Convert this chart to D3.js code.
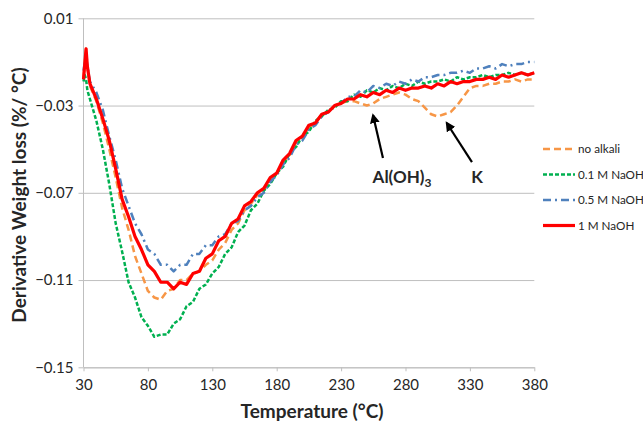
<!DOCTYPE html>
<html>
<head>
<meta charset="utf-8">
<script src="https://cdn.jsdelivr.net/npm/d3@7"></script>
<style>
  body { margin: 0; background: #fff; }
  svg { display: block; font-family: Lato, 'Open Sans', sans-serif; }
  .grid-line { stroke: #bfbfbf; stroke-width: 1; }
  .axis path, .axis line { stroke: #bfbfbf; }
  .axis text { fill: #262626; font-size: 15px; font-family: Lato, sans-serif; }
  .series { fill: none; stroke-linejoin: round; }
</style>
</head>
<body>
<svg id="plotarea"></svg>
<script>
// temperature (°C)
const temps = [30, 31, 32, 33, 35, 40, 45, 50, 55, 60, 65, 70, 75, 80, 85, 90, 95, 100,
  105, 110, 115, 120, 125, 130, 135, 140, 145, 150, 155, 160, 165, 170, 175, 180,
  185, 190, 195, 200, 205, 210, 215, 220, 225, 230, 235, 240, 245, 250, 255, 260,
  265, 270, 275, 280, 285, 290, 295, 300, 305, 310, 315, 320, 325, 330, 335, 340,
  345, 350, 355, 360, 365, 370, 375, 380];

// derivative weight loss (%/°C)
const noAlkali = [-0.017, -0.010, -0.004, -0.012, -0.021, -0.028, -0.038, -0.050, -0.063, -0.077,
  -0.087, -0.099, -0.107, -0.115, -0.118, -0.119, -0.115, -0.114, -0.110, -0.110, -0.107, -0.106,
  -0.103, -0.101, -0.096, -0.093, -0.087, -0.084, -0.078, -0.075, -0.071, -0.069, -0.064, -0.061,
  -0.056, -0.053, -0.047, -0.045, -0.040, -0.038, -0.034, -0.033, -0.030, -0.029, -0.028, -0.028,
  -0.029, -0.030, -0.029, -0.027, -0.026, -0.025, -0.024, -0.025, -0.027, -0.028, -0.031, -0.034,
  -0.035, -0.034, -0.033, -0.030, -0.026, -0.022, -0.021, -0.021, -0.020, -0.020, -0.019, -0.019,
  -0.018, -0.019, -0.018, -0.018];

const naoh01 = [-0.019, -0.016, -0.018, -0.023, -0.027, -0.037, -0.050, -0.066, -0.084, -0.097,
  -0.111, -0.118, -0.127, -0.131, -0.136, -0.135, -0.135, -0.130, -0.128, -0.122, -0.120, -0.114,
  -0.112, -0.107, -0.104, -0.098, -0.095, -0.088, -0.085, -0.078, -0.075, -0.069, -0.066, -0.061,
  -0.058, -0.052, -0.049, -0.044, -0.042, -0.037, -0.035, -0.032, -0.031, -0.028, -0.028, -0.025,
  -0.026, -0.023, -0.024, -0.022, -0.023, -0.021, -0.022, -0.020, -0.021, -0.019, -0.020, -0.019,
  -0.019, -0.018, -0.019, -0.017, -0.018, -0.017, -0.017, -0.016, -0.017, -0.016, -0.016, -0.015,
  -0.016, -0.015, -0.016, -0.015];

const naoh05 = [-0.014, -0.010, -0.007, -0.012, -0.019, -0.024, -0.032, -0.044, -0.055, -0.068,
  -0.076, -0.084, -0.089, -0.096, -0.098, -0.103, -0.103, -0.106, -0.103, -0.103, -0.098, -0.098,
  -0.094, -0.094, -0.090, -0.089, -0.084, -0.083, -0.078, -0.076, -0.072, -0.070, -0.065, -0.062,
  -0.057, -0.054, -0.048, -0.046, -0.041, -0.039, -0.035, -0.033, -0.030, -0.029, -0.026, -0.026,
  -0.023, -0.024, -0.021, -0.022, -0.020, -0.021, -0.019, -0.020, -0.018, -0.019, -0.017, -0.017,
  -0.016, -0.016, -0.015, -0.015, -0.014, -0.015, -0.013, -0.013, -0.012, -0.013, -0.011, -0.012,
  -0.011, -0.011, -0.010, -0.010];

const naoh1 = [-0.018, -0.011, -0.004, -0.012, -0.020, -0.027, -0.036, -0.046, -0.059, -0.073,
  -0.081, -0.090, -0.096, -0.103, -0.106, -0.111, -0.111, -0.114, -0.111, -0.112, -0.107, -0.106,
  -0.100, -0.098, -0.092, -0.090, -0.084, -0.082, -0.076, -0.074, -0.070, -0.068, -0.063, -0.061,
  -0.055, -0.052, -0.046, -0.044, -0.039, -0.038, -0.034, -0.033, -0.030, -0.029, -0.027, -0.027,
  -0.025, -0.026, -0.024, -0.025, -0.023, -0.024, -0.022, -0.023, -0.022, -0.022, -0.021, -0.022,
  -0.020, -0.021, -0.019, -0.020, -0.019, -0.019, -0.018, -0.018, -0.017, -0.018, -0.016, -0.017,
  -0.016, -0.015, -0.016, -0.015];

const seriesNames = ['no alkali', '0.1 M NaOH', '0.5 M NaOH', '1 M NaOH'];
const seriesColors = ['#f79646', '#00b050', '#4f81bd', '#ff0000'];
const seriesDash = ['7,4', '4,2', '8,4,2,4', null];
const seriesWidth = [2.5, 2.5, 2.5, 3.2];

const xTicks = [30, 80, 130, 180, 230, 280, 330, 380];
const yTicks = [0.01, -0.03, -0.07, -0.11, -0.15];

// annotations: [label, sub, arrow tail T, tail v, head T, head v, label T, label v]
const notes = [
  ['Al(OH)', '3', 262.5, -0.054, 254.8, -0.0344, 277.3, -0.0657],
  ['K', '', 331.6, -0.0559, 312, -0.038, 335.5, -0.0657]
];

const margin = { top: 18.3, bottom: 53.7, left: 83.5, right: 108.7 };
const dims = {
  width: 643 - margin.left - margin.right,
  height: 421 - margin.top - margin.bottom,
};

const svg = d3.select('#plotarea')
  .attr('width', 643)
  .attr('height', 421);

svg.append('defs').append('marker')
  .attr('id', 'arrow')
  .attr('viewBox', '0 0 10 10')
  .attr('refX', 8).attr('refY', 5)
  .attr('markerWidth', 4.5).attr('markerHeight', 4.5)
  .attr('orient', 'auto')
  .append('path')
  .attr('d', 'M0,0 L10,5 L0,10 z')
  .attr('fill', '#000');

const g = svg.append('g')
  .attr('transform', `translate(${margin.left}, ${margin.top})`);

const x = d3.scaleLinear().domain([30, 380]).range([0, dims.width]);
const y = d3.scaleLinear().domain([-0.15, 0.01]).range([dims.height, 0]);

// y axis with grid
const yAxis = g.append('g')
  .attr('class', 'axis y-axis')
  .call(d3.axisLeft(y).tickValues(yTicks).tickSize(5).tickPadding(5).tickFormat(d3.format('.2f')));
yAxis.select('.domain').remove();
yAxis.selectAll('g.tick')
  .append('line')
  .classed('grid-line', true)
  .attr('x1', 0).attr('y1', 0)
  .attr('x2', dims.width).attr('y2', 0);
g.append('line')
  .attr('class', 'grid-line')
  .attr('x1', 0).attr('x2', 0)
  .attr('y1', 0).attr('y2', dims.height);

// x axis
g.append('g')
  .attr('class', 'axis x-axis')
  .attr('transform', 'translate(0,' + dims.height + ')')
  .call(d3.axisBottom(x).tickValues(xTicks).tickSize(4).tickPadding(8).tickSizeOuter(0));

// series
const allSeries = [noAlkali, naoh01, naoh05, naoh1];
const line = d3.line()
  .x(function(d) { return x(d[0]); })
  .y(function(d) { return y(d[1]); });

allSeries.forEach(function(vals, i) {
  g.append('path')
    .attr('class', 'series')
    .attr('stroke', seriesColors[i])
    .attr('stroke-width', seriesWidth[i])
    .attr('stroke-dasharray', seriesDash[i])
    .attr('d', line(temps.map(function(t, j) { return [t, vals[j]]; })));
});

// annotations
notes.forEach(function(n) {
  g.append('line')
    .attr('x1', x(n[2])).attr('y1', y(n[3]))
    .attr('x2', x(n[4])).attr('y2', y(n[5]))
    .attr('stroke', '#000')
    .attr('stroke-width', 2.2)
    .attr('marker-end', 'url(#arrow)');
  const t = g.append('text')
    .attr('x', x(n[6])).attr('y', y(n[7]))
    .attr('text-anchor', 'middle')
    .style('font-weight', 'bold')
    .style('font-size', '17px')
    .attr('fill', '#262626')
    .text(n[0]);
  if (n[1]) {
    t.append('tspan')
      .attr('dy', 4)
      .style('font-size', '12px')
      .text(n[1]);
  }
});

// legend
const legend = svg.append('g')
  .attr('transform', 'translate(543, 149)');
seriesNames.forEach(function(name, i) {
  const row = legend.append('g').attr('transform', `translate(0, ${i * 25.5})`);
  row.append('line')
    .attr('x1', 0).attr('x2', 32)
    .attr('stroke', seriesColors[i])
    .attr('stroke-width', seriesWidth[i])
    .attr('stroke-dasharray', seriesDash[i]);
  row.append('text')
    .attr('x', 35)
    .attr('dy', '0.35em')
    .style('font-size', '11.7px')
    .attr('fill', '#262626')
    .text(name);
});

// axis titles
svg.append('text')
  .attr('transform', 'translate(26, 195) rotate(-90)')
  .style('text-anchor', 'middle')
  .style('font-weight', 'bold')
  .style('font-size', '19px')
  .attr('fill', '#262626')
  .text('Derivative Weight loss (%/ °C)');

svg.append('text')
  .attr('x', 312)
  .attr('y', 418)
  .style('text-anchor', 'middle')
  .style('font-weight', 'bold')
  .style('font-size', '19px')
  .attr('fill', '#262626')
  .text('Temperature (°C)');
</script>
</body>
</html>
